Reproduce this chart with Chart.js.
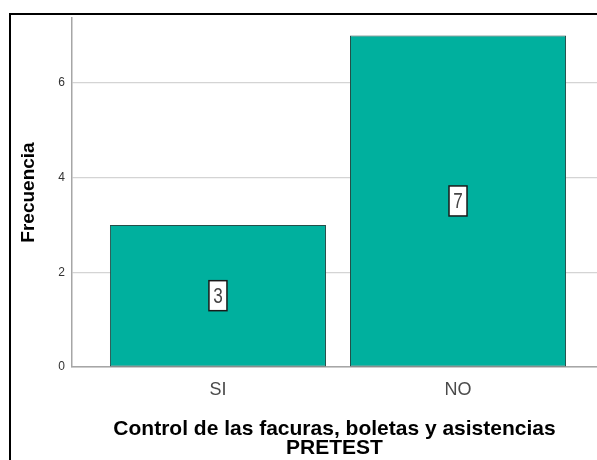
<!DOCTYPE html>
<html>
<head>
<meta charset="utf-8">
<script src="https://cdn.jsdelivr.net/npm/chart.js@4/dist/chart.umd.min.js"></script>
<style>
  html, body { margin: 0; padding: 0; background: #fff; }
  #wrap { position: relative; width: 597px; height: 460px; overflow: hidden; }
  #frame {
    position: absolute; left: 9px; top: 13px; width: 620px; height: 480px;
    border-left: 2px solid #000; border-top: 2px solid #000; pointer-events: none;
  }
</style>
</head>
<body>
<div id="wrap">
  <canvas id="chart" width="597" height="460"></canvas>
  <div id="frame"></div>
</div>
<script>
'use strict';

const categories = ['SI', 'NO'];
const counts = [3, 7];
const yTicks = [0, 2, 4, 6];
const yTitle = 'Frecuencia';
const xTitle = ['Control de las facuras, boletas y asistencias', 'PRETEST'];

const FONT = "'Liberation Sans', Arial, sans-serif";
const BAR_COLOR = '#00b09e';
const BAR_EDGE = '#244e49';

// white boxed count in the middle of each bar
const boxLabels = {
  id: 'boxLabels',
  afterDatasetsDraw(chart) {
    const { ctx } = chart;
    const meta = chart.getDatasetMeta(0);
    meta.data.forEach((bar, i) => {
      const cx = bar.x;
      const cy = (bar.y + bar.base) / 2;
      const w = 18, h = 30;
      ctx.save();
      ctx.fillStyle = '#fff';
      ctx.fillRect(cx - w / 2, cy - h / 2, w, h);
      ctx.lineWidth = 1.5;
      ctx.strokeStyle = '#1a1a1a';
      ctx.strokeRect(cx - w / 2, cy - h / 2, w, h);
      ctx.translate(cx, cy + 1);
      ctx.scale(0.78, 1);
      ctx.fillStyle = '#444';
      ctx.font = '22px ' + FONT;
      ctx.textAlign = 'center';
      ctx.textBaseline = 'middle';
      ctx.fillText(String(counts[i]), 0, 0);
      ctx.restore();
    });
  }
};

new Chart(document.getElementById('chart'), {
  type: 'bar',
  data: {
    datasets: [{
      data: categories.map((c, i) => ({ x: i, y: counts[i] })),
      backgroundColor: BAR_COLOR,
      borderColor: BAR_EDGE,
      borderWidth: 1,
      borderSkipped: false,
      categoryPercentage: 1,
      barPercentage: 0.9
    }]
  },
  options: {
    responsive: false,
    animation: false,
    layout: { padding: { top: 18, left: 0, right: 0, bottom: 0 } },
    plugins: {
      legend: { display: false },
      tooltip: { enabled: false }
    },
    scales: {
      x: {
        type: 'linear',
        offset: false,
        min: -0.608,
        max: 1.579,
        afterBuildTicks: s => { s.ticks = categories.map((c, i) => ({ value: i })); },
        afterFit: s => { s.height = 93; },
        grid: { display: false, drawTicks: false },
        border: { color: '#a6a6a6', width: 1.5 },
        ticks: {
          padding: 12,
          color: '#4a4a4a',
          font: { family: FONT, size: 18 },
          callback: v => categories[v] ?? ''
        },
        title: {
          display: true,
          text: xTitle,
          color: '#000',
          padding: { top: 0, bottom: 2 },
          font: { family: FONT, size: 21, weight: 'bold', lineHeight: 0.9 }
        }
      },
      y: {
        min: 0,
        max: 7.37,
        afterBuildTicks: s => { s.ticks = yTicks.map(v => ({ value: v })); },
        afterFit: s => { s.width = 72; },
        grid: { color: '#d4d4d4', lineWidth: 1.2, drawTicks: false },
        border: { color: '#a6a6a6', width: 1.5 },
        ticks: {
          padding: 7,
          color: '#333',
          font: { family: FONT, size: 12 }
        },
        title: {
          display: true,
          text: yTitle,
          color: '#000',
          padding: { top: 17, bottom: 0 },
          font: { family: FONT, size: 19, weight: 'bold' }
        }
      }
    }
  },
  plugins: [boxLabels]
});
</script>
</body>
</html>
